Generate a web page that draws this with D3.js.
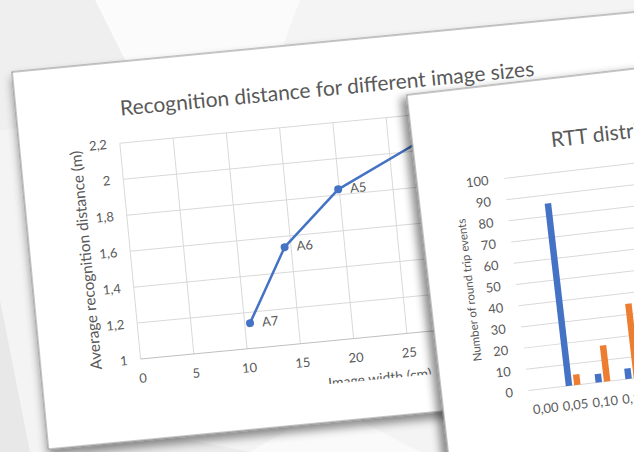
<!DOCTYPE html>
<html>
<head>
<meta charset="utf-8">
<script src="https://cdn.jsdelivr.net/npm/d3@7"></script>
<style>
  html, body { margin: 0; padding: 0; background: #fff; overflow: hidden; }
  svg { display: block; }
  text { font-family: Lato, "Open Sans", sans-serif; }
</style>
</head>
<body>
<svg id="chart" width="634" height="452"></svg>
<script>
// Recognition distance for each printed image size
const sizeNames = ["A7", "A6", "A5", "A4"];
const imageWidthCm = [10.5, 14.4, 19.9, 29.7];
const avgDistanceM = [1.14, 1.54, 1.83, 2.1];
const widthTicks = [0, 5, 10, 15, 20, 25, 30];
const distanceTicks = [1, 1.2, 1.4, 1.6, 1.8, 2, 2.2];

// Round-trip-time histogram, two series per bin
const rttBins = ["0,00", "0,05", "0,10", "0,15"];
const rttBlue = [0, 86, 4, 5];
const rttOrange = [0, 5, 17, 35];
const countTicks = [0, 10, 20, 30, 40, 50, 60, 70, 80, 90, 100];

const TEXT = "#595959";
const GRID = "#d9d9d9";
const BLUE = "#4472c4";
const ORANGE = "#ed7d31";

const comma = d3.formatLocale({ decimal: ",", thousands: " ", grouping: [3], currency: ["", ""] }).format(".1~f");

const svg = d3.select("#chart");
const defs = svg.append("defs");

function dropShadow(id, dx, dy, sd, op) {
  const f = defs.append("filter").attr("id", id)
    .attr("x", "-10%").attr("y", "-10%").attr("width", "120%").attr("height", "120%");
  f.append("feDropShadow").attr("dx", dx).attr("dy", dy)
    .attr("stdDeviation", sd).attr("flood-color", "#000").attr("flood-opacity", op);
}
dropShadow("sh1", 0, 6, 5, 0.45);
dropShadow("sh2", -6, 3, 4, 0.45);

// desk background with faint facets
svg.append("rect").attr("width", 634).attr("height", 452).attr("fill", "#f4f4f4");
const facets = [
  { pts: [[95, 0], [300, 0], [255, 120], [150, 110]], fill: "#fbfbfb" },
  { pts: [[0, 0], [95, 0], [150, 110], [0, 130]], fill: "#efefef" },
  { pts: [[0, 300], [30, 452], [0, 452]], fill: "#e8e8e8" },
  { pts: [[250, 452], [330, 405], [420, 452]], fill: "#fafafa" },
  { pts: [[80, 452], [140, 430], [250, 452]], fill: "#ececec" }
];
svg.selectAll("polygon.facet").data(facets).join("polygon")
  .attr("class", "facet")
  .attr("points", d => d.pts.map(p => p.join(",")).join(" "))
  .attr("fill", d => d.fill);

// ---------- first card: line chart ----------
const card1 = svg.append("g").attr("transform", "translate(12,72) rotate(-5.5)");
card1.append("rect").attr("width", 720).attr("height", 379)
  .attr("fill", "#fff").attr("stroke", "#8c8c8c").attr("stroke-width", 1)
  .attr("filter", "url(#sh1)");

const x1 = d3.scaleLinear().domain([0, 30]).range([100.5, 421.5]);
const y1 = d3.scaleLinear().domain([1, 2.2]).range([298.1, 81.2]);

card1.append("g").selectAll("line").data(widthTicks).join("line")
  .attr("x1", d => x1(d)).attr("x2", d => x1(d))
  .attr("y1", y1(2.2)).attr("y2", y1(1))
  .attr("stroke", GRID).attr("stroke-width", 1);
card1.append("g").selectAll("line").data(distanceTicks).join("line")
  .attr("x1", x1(0)).attr("x2", x1(30))
  .attr("y1", d => y1(d)).attr("y2", d => y1(d))
  .attr("stroke", d => d === 1 ? "#bfbfbf" : GRID).attr("stroke-width", 1);

const ax1y = card1.append("g").attr("transform", `translate(${x1(0)},0)`)
  .call(d3.axisLeft(y1).tickValues(distanceTicks).tickFormat(comma).tickSize(0).tickPadding(13));
const ax1x = card1.append("g").attr("transform", `translate(0,${y1(1)})`)
  .call(d3.axisBottom(x1).tickValues(widthTicks).tickFormat(d3.format("d")).tickSize(0).tickPadding(14.5));
[ax1y, ax1x].forEach(a => {
  a.select(".domain").remove();
  a.attr("font-family", null).attr("font-size", null);
  a.selectAll("text").attr("fill", TEXT).style("font-size", "13px");
});

const title1 = card1.append("text").attr("x", 312).attr("y", 54)
  .attr("text-anchor", "middle").attr("fill", TEXT).style("font-size", "20px")
  .text("Recognition distance for different image sizes");

const yTitle1 = card1.append("text").attr("transform", "translate(61,194.5) rotate(-90)")
  .attr("text-anchor", "middle").attr("fill", TEXT).style("font-size", "14px")
  .text("Average recognition distance (m)");

defs.append("clipPath").attr("id", "xTitleClip")
  .append("rect").attr("x", 0).attr("y", 0).attr("width", 720).attr("height", 341);
card1.append("text").attr("x", 285).attr("y", 345)
  .attr("fill", TEXT).style("font-size", "14px")
  .attr("clip-path", "url(#xTitleClip)")
  .text("Image width (cm)");

const pts = imageWidthCm.map((w, i) => ({ w, d: avgDistanceM[i], name: sizeNames[i] }));
card1.append("path").datum(pts)
  .attr("d", d3.line().x(p => x1(p.w)).y(p => y1(p.d)))
  .attr("fill", "none").attr("stroke", BLUE).attr("stroke-width", 2.5)
  .attr("stroke-linejoin", "round");
card1.append("g").selectAll("circle").data(pts).join("circle")
  .attr("cx", p => x1(p.w)).attr("cy", p => y1(p.d)).attr("r", 4)
  .attr("fill", BLUE);
card1.append("g").selectAll("text").data(pts).join("text")
  .attr("x", p => x1(p.w) + 12).attr("y", p => y1(p.d)).attr("dy", "0.35em")
  .attr("fill", TEXT).style("font-size", "13px")
  .text(p => p.name);

// ---------- second card: column chart ----------
const card2 = svg.append("g").attr("transform", "translate(406.7,95) rotate(-6.6)");
card2.append("rect").attr("width", 620).attr("height", 520)
  .attr("fill", "#fff").attr("stroke", "#8c8c8c").attr("stroke-width", 1)
  .attr("filter", "url(#sh2)");

const x2 = d3.scaleBand().domain(rttBins).range([87, 87 + 30 * rttBins.length]);
const inner = d3.scaleBand().domain(["blue", "orange"]).range([0, x2.bandwidth()])
  .paddingInner(0.226).paddingOuter(0.9);
const y2 = d3.scaleLinear().domain([0, 100]).range([307.6, 94]);

card2.append("g").selectAll("line").data(countTicks).join("line")
  .attr("x1", 87).attr("x2", 640)
  .attr("y1", d => y2(d)).attr("y2", d => y2(d))
  .attr("stroke", GRID).attr("stroke-width", 1);

const ax2y = card2.append("g").attr("transform", "translate(87,0)")
  .call(d3.axisLeft(y2).tickValues(countTicks).tickFormat(d3.format("d")).tickSize(0).tickPadding(15.5));
const ax2x = card2.append("g").attr("transform", `translate(0,${y2(0)})`)
  .call(d3.axisBottom(x2).tickSize(0).tickPadding(15));
[ax2y, ax2x].forEach(a => {
  a.select(".domain").remove();
  a.attr("font-family", null).attr("font-size", null);
  a.selectAll("text").attr("fill", TEXT).style("font-size", "13px");
});

const bars = rttBins.flatMap((b, i) => [
  { bin: b, key: "blue", v: rttBlue[i], color: BLUE },
  { bin: b, key: "orange", v: rttOrange[i], color: ORANGE }
]);
card2.append("g").selectAll("rect").data(bars).join("rect")
  .attr("x", d => x2(d.bin) + inner(d.key))
  .attr("width", inner.bandwidth())
  .attr("y", d => y2(d.v))
  .attr("height", d => y2(0) - y2(d.v))
  .attr("fill", d => d.color);

const title2 = card2.append("text").attr("x", 138).attr("y", 68.7)
  .attr("fill", TEXT).style("font-size", "20px")
  .text("RTT distribution");

card2.append("text").attr("transform", "translate(44,201) rotate(-90)")
  .attr("text-anchor", "middle").attr("fill", TEXT).style("font-size", "11.5px")
  .text("Number of round trip events");

// fit the card titles to the measured line length
const len = title1.node().getComputedTextLength();
if (len > 0) {
  const fs = 20 * 416 / len;
  title1.style("font-size", fs + "px");
  title2.style("font-size", fs + "px");
}
const ylen = yTitle1.node().getComputedTextLength();
if (ylen > 0) yTitle1.style("font-size", (14 * 220 / ylen) + "px");
</script>
</body>
</html>
